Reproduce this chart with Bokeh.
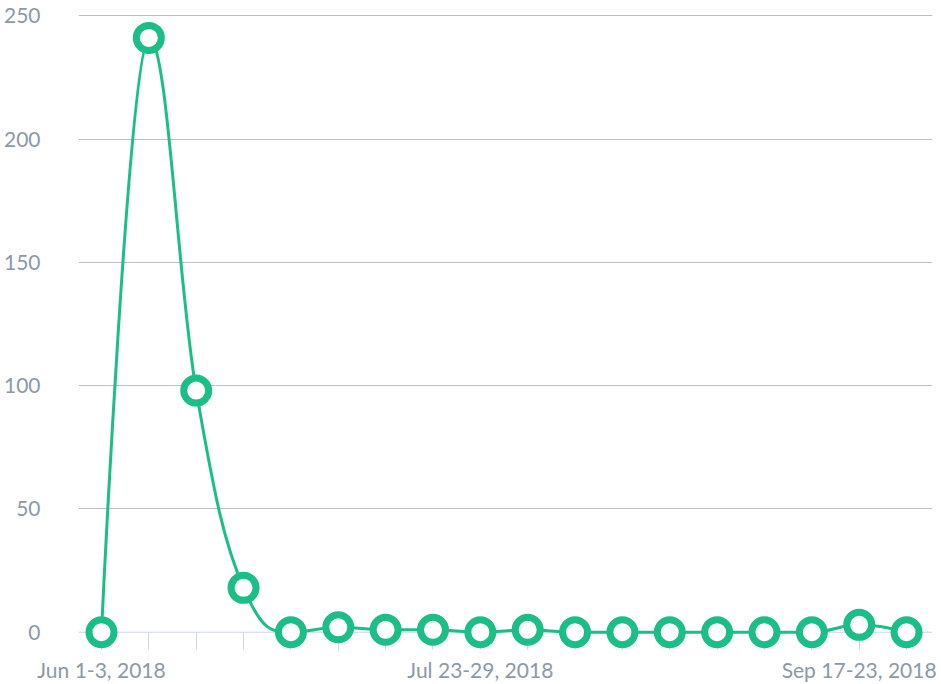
from bokeh.plotting import figure
from bokeh.models import Range1d, FixedTicker, Span
from bokeh.embed import file_html
from bokeh.resources import INLINE

weeks = [
    "Jun 1-3, 2018", "Jun 4-10, 2018", "Jun 11-17, 2018", "Jun 18-24, 2018",
    "Jun 25-Jul 1, 2018", "Jul 2-8, 2018", "Jul 9-15, 2018", "Jul 16-22, 2018",
    "Jul 23-29, 2018", "Jul 30-Aug 5, 2018", "Aug 6-12, 2018", "Aug 13-19, 2018",
    "Aug 20-26, 2018", "Aug 27-Sep 2, 2018", "Sep 3-9, 2018", "Sep 10-16, 2018",
    "Sep 17-23, 2018", "Sep 24-30, 2018",
]
values = [0, 241, 98, 18, 0, 2, 1, 1, 0, 1, 0, 0, 0, 0, 0, 0, 3, 0]
shown_labels = ["Jun 1-3, 2018", "Jul 23-29, 2018", "Sep 17-23, 2018"]
y_ticks = [0, 50, 100, 150, 200, 250]

GREEN = "#1bbf85"
LABEL = "#8c99a6"
AXIS = "#ccd6eb"
GRID = "#c0c0c0"
FONT = "Lato"

xs = list(range(len(weeks)))


def spline_controls(px_list, py_list, smoothing=1.5):
    n = len(px_list)
    lc = [(px_list[i], py_list[i]) for i in range(n)]
    rc = [(px_list[i], py_list[i]) for i in range(n)]
    denom = smoothing + 1
    for i in range(1, n - 1):
        px, py = px_list[i], py_list[i]
        lx, ly = px_list[i - 1], py_list[i - 1]
        nx, ny = px_list[i + 1], py_list[i + 1]
        lcx = (smoothing * px + lx) / denom
        lcy = (smoothing * py + ly) / denom
        rcx = (smoothing * px + nx) / denom
        rcy = (smoothing * py + ny) / denom
        if rcx != lcx:
            corr = (rcy - lcy) * (rcx - px) / (rcx - lcx) + py - rcy
            lcy += corr
            rcy += corr
            if lcy > ly and lcy > py:
                lcy = max(ly, py)
                rcy = 2 * py - lcy
            elif lcy < ly and lcy < py:
                lcy = min(ly, py)
                rcy = 2 * py - lcy
            if rcy > ny and rcy > py:
                rcy = max(ny, py)
                lcy = 2 * py - rcy
            elif rcy < ny and rcy < py:
                rcy = min(ny, py)
                lcy = 2 * py - rcy
        lc[i] = (lcx, lcy)
        rc[i] = (rcx, rcy)
    return lc, rc


lc, rc = spline_controls(xs, values)

p = figure(
    width=941, height=684,
    x_range=Range1d(-0.485, 17.548), y_range=Range1d(-7, 250.5),
    output_backend="svg", toolbar_location=None,
    min_border_left=77, min_border_right=9, min_border_top=14, min_border_bottom=34,
)
p.outline_line_color = None
p.background_fill_color = "white"
p.border_fill_color = "white"

# grid
p.xgrid.grid_line_color = None
p.ygrid.ticker = FixedTicker(ticks=[t for t in y_ticks if t != 0])
p.ygrid.grid_line_color = GRID
p.ygrid.grid_line_width = 1

# baseline
p.add_layout(Span(location=0, dimension="width", line_color=AXIS, line_width=1, level="underlay"))

# y axis
p.yaxis.ticker = FixedTicker(ticks=y_ticks)
p.yaxis.axis_line_color = None
p.yaxis.major_tick_line_color = None
p.yaxis.minor_tick_line_color = None
p.yaxis.major_label_standoff = 32
p.yaxis.major_label_text_font = FONT
p.yaxis.major_label_text_font_size = "21px"
p.yaxis.major_label_text_color = LABEL

# x axis
p.xaxis.ticker = FixedTicker(ticks=xs)
p.xaxis.major_label_overrides = {i: (w if w in shown_labels else "") for i, w in zip(xs, weeks)}
p.xaxis.axis_line_color = None
p.xaxis.major_tick_line_color = AXIS
p.xaxis.major_tick_in = 17
p.xaxis.major_tick_out = 0
p.xaxis.minor_tick_line_color = None
p.xaxis.major_label_standoff = 7
p.xaxis.major_label_text_font = FONT
p.xaxis.major_label_text_font_size = "21px"
p.xaxis.major_label_text_color = LABEL

# spline line
p.bezier(
    x0=xs[:-1], y0=values[:-1], x1=xs[1:], y1=values[1:],
    cx0=[c[0] for c in rc[:-1]], cy0=[c[1] for c in rc[:-1]],
    cx1=[c[0] for c in lc[1:]], cy1=[c[1] for c in lc[1:]],
    line_color=GREEN, line_width=3, level="overlay",
)

# markers
p.scatter(xs, values, size=25, fill_color="white", line_color=GREEN, line_width=7,
          level="overlay")

open("out.html", "w").write(file_html(p, INLINE))
